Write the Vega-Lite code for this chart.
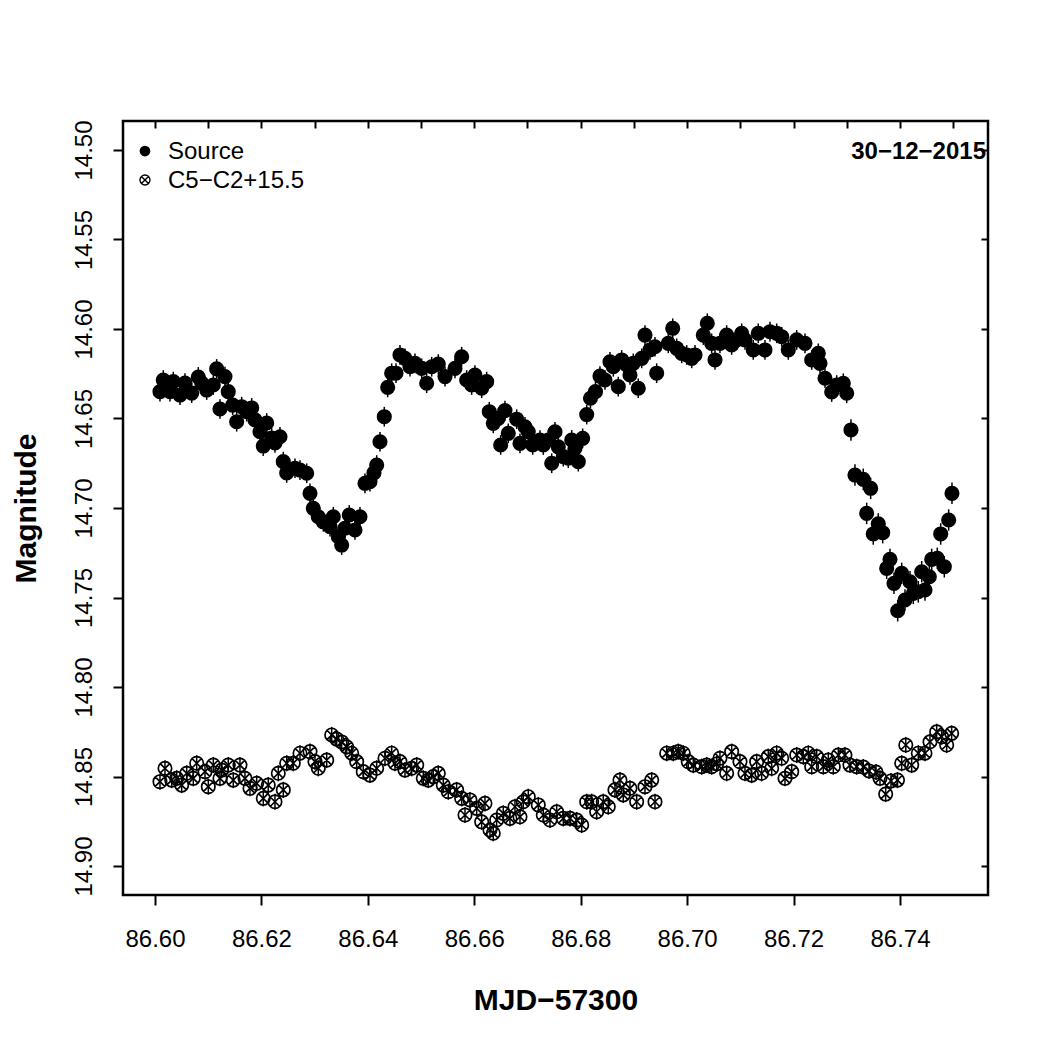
{
  "$schema": "https://vega.github.io/schema/vega-lite/v6.json",
  "autosize": {"type": "none"},
  "width": 865,
  "height": 774,
  "padding": {"left": 123, "top": 121, "right": 60, "bottom": 153},
  "background": "white",
  "config": {
    "font": "Liberation Sans",
    "view": {"stroke": "black", "strokeWidth": 2.5},
    "axis": {"grid": false, "domain": false, "tickColor": "black", "tickWidth": 2, "labelColor": "black", "titleColor": "black", "labelFont": "Liberation Sans", "titleFont": "Liberation Sans"}
  },
  "datasets": {
    "lc": [
      {"series": "Source", "mjd": 86.60094, "mag": 14.6350, "err": 0.0055},
      {"series": "Source", "mjd": 86.60156, "mag": 14.6285, "err": 0.0055},
      {"series": "Source", "mjd": 86.60282, "mag": 14.6350, "err": 0.0055},
      {"series": "Source", "mjd": 86.60344, "mag": 14.6294, "err": 0.0055},
      {"series": "Source", "mjd": 86.60470, "mag": 14.6369, "err": 0.0055},
      {"series": "Source", "mjd": 86.60564, "mag": 14.6302, "err": 0.0055},
      {"series": "Source", "mjd": 86.60690, "mag": 14.6358, "err": 0.0055},
      {"series": "Source", "mjd": 86.60814, "mag": 14.6268, "err": 0.0055},
      {"series": "Source", "mjd": 86.60878, "mag": 14.6302, "err": 0.0055},
      {"series": "Source", "mjd": 86.60972, "mag": 14.6341, "err": 0.0055},
      {"series": "Source", "mjd": 86.61096, "mag": 14.6313, "err": 0.0055},
      {"series": "Source", "mjd": 86.61159, "mag": 14.6223, "err": 0.0055},
      {"series": "Source", "mjd": 86.61221, "mag": 14.6447, "err": 0.0055},
      {"series": "Source", "mjd": 86.61315, "mag": 14.6266, "err": 0.0055},
      {"series": "Source", "mjd": 86.61377, "mag": 14.6350, "err": 0.0055},
      {"series": "Source", "mjd": 86.61460, "mag": 14.6425, "err": 0.0055},
      {"series": "Source", "mjd": 86.61535, "mag": 14.6518, "err": 0.0055},
      {"series": "Source", "mjd": 86.61629, "mag": 14.6434, "err": 0.0055},
      {"series": "Source", "mjd": 86.61723, "mag": 14.6462, "err": 0.0055},
      {"series": "Source", "mjd": 86.61817, "mag": 14.6441, "err": 0.0055},
      {"series": "Source", "mjd": 86.61879, "mag": 14.6508, "err": 0.0055},
      {"series": "Source", "mjd": 86.61973, "mag": 14.6574, "err": 0.0055},
      {"series": "Source", "mjd": 86.62035, "mag": 14.6654, "err": 0.0055},
      {"series": "Source", "mjd": 86.62099, "mag": 14.6525, "err": 0.0055},
      {"series": "Source", "mjd": 86.62193, "mag": 14.6609, "err": 0.0055},
      {"series": "Source", "mjd": 86.62255, "mag": 14.6637, "err": 0.0055},
      {"series": "Source", "mjd": 86.62349, "mag": 14.6602, "err": 0.0055},
      {"series": "Source", "mjd": 86.62411, "mag": 14.6741, "err": 0.0055},
      {"series": "Source", "mjd": 86.62475, "mag": 14.6804, "err": 0.0055},
      {"series": "Source", "mjd": 86.62631, "mag": 14.6778, "err": 0.0055},
      {"series": "Source", "mjd": 86.62725, "mag": 14.6788, "err": 0.0055},
      {"series": "Source", "mjd": 86.62851, "mag": 14.6806, "err": 0.0055},
      {"series": "Source", "mjd": 86.62913, "mag": 14.6918, "err": 0.0055},
      {"series": "Source", "mjd": 86.62975, "mag": 14.7002, "err": 0.0055},
      {"series": "Source", "mjd": 86.63069, "mag": 14.7049, "err": 0.0055},
      {"series": "Source", "mjd": 86.63163, "mag": 14.7077, "err": 0.0055},
      {"series": "Source", "mjd": 86.63289, "mag": 14.7104, "err": 0.0055},
      {"series": "Source", "mjd": 86.63351, "mag": 14.7049, "err": 0.0055},
      {"series": "Source", "mjd": 86.63445, "mag": 14.7160, "err": 0.0055},
      {"series": "Source", "mjd": 86.63508, "mag": 14.7207, "err": 0.0055},
      {"series": "Source", "mjd": 86.63570, "mag": 14.7113, "err": 0.0055},
      {"series": "Source", "mjd": 86.63651, "mag": 14.7039, "err": 0.0055},
      {"series": "Source", "mjd": 86.63758, "mag": 14.7123, "err": 0.0055},
      {"series": "Source", "mjd": 86.63852, "mag": 14.7049, "err": 0.0055},
      {"series": "Source", "mjd": 86.63946, "mag": 14.6862, "err": 0.0055},
      {"series": "Source", "mjd": 86.64040, "mag": 14.6853, "err": 0.0055},
      {"series": "Source", "mjd": 86.64115, "mag": 14.6804, "err": 0.0055},
      {"series": "Source", "mjd": 86.64166, "mag": 14.6760, "err": 0.0055},
      {"series": "Source", "mjd": 86.64228, "mag": 14.6630, "err": 0.0055},
      {"series": "Source", "mjd": 86.64309, "mag": 14.6490, "err": 0.0055},
      {"series": "Source", "mjd": 86.64373, "mag": 14.6326, "err": 0.0055},
      {"series": "Source", "mjd": 86.64448, "mag": 14.6247, "err": 0.0055},
      {"series": "Source", "mjd": 86.64529, "mag": 14.6247, "err": 0.0055},
      {"series": "Source", "mjd": 86.64604, "mag": 14.6145, "err": 0.0055},
      {"series": "Source", "mjd": 86.64698, "mag": 14.6164, "err": 0.0055},
      {"series": "Source", "mjd": 86.64792, "mag": 14.6211, "err": 0.0055},
      {"series": "Source", "mjd": 86.64886, "mag": 14.6192, "err": 0.0055},
      {"series": "Source", "mjd": 86.65012, "mag": 14.6220, "err": 0.0055},
      {"series": "Source", "mjd": 86.65106, "mag": 14.6303, "err": 0.0055},
      {"series": "Source", "mjd": 86.65200, "mag": 14.6211, "err": 0.0055},
      {"series": "Source", "mjd": 86.65324, "mag": 14.6196, "err": 0.0055},
      {"series": "Source", "mjd": 86.65450, "mag": 14.6266, "err": 0.0055},
      {"series": "Source", "mjd": 86.65638, "mag": 14.6220, "err": 0.0055},
      {"series": "Source", "mjd": 86.65763, "mag": 14.6155, "err": 0.0055},
      {"series": "Source", "mjd": 86.65857, "mag": 14.6285, "err": 0.0055},
      {"series": "Source", "mjd": 86.65951, "mag": 14.6313, "err": 0.0055},
      {"series": "Source", "mjd": 86.66013, "mag": 14.6257, "err": 0.0055},
      {"series": "Source", "mjd": 86.66139, "mag": 14.6331, "err": 0.0055},
      {"series": "Source", "mjd": 86.66233, "mag": 14.6294, "err": 0.0055},
      {"series": "Source", "mjd": 86.66282, "mag": 14.6462, "err": 0.0055},
      {"series": "Source", "mjd": 86.66357, "mag": 14.6527, "err": 0.0055},
      {"series": "Source", "mjd": 86.66451, "mag": 14.6499, "err": 0.0055},
      {"series": "Source", "mjd": 86.66496, "mag": 14.6648, "err": 0.0055},
      {"series": "Source", "mjd": 86.66577, "mag": 14.6456, "err": 0.0055},
      {"series": "Source", "mjd": 86.66639, "mag": 14.6583, "err": 0.0055},
      {"series": "Source", "mjd": 86.66797, "mag": 14.6504, "err": 0.0055},
      {"series": "Source", "mjd": 86.66859, "mag": 14.6639, "err": 0.0055},
      {"series": "Source", "mjd": 86.66953, "mag": 14.6546, "err": 0.0055},
      {"series": "Source", "mjd": 86.67015, "mag": 14.6574, "err": 0.0055},
      {"series": "Source", "mjd": 86.67098, "mag": 14.6648, "err": 0.0055},
      {"series": "Source", "mjd": 86.67235, "mag": 14.6620, "err": 0.0055},
      {"series": "Source", "mjd": 86.67297, "mag": 14.6648, "err": 0.0055},
      {"series": "Source", "mjd": 86.67391, "mag": 14.6620, "err": 0.0055},
      {"series": "Source", "mjd": 86.67455, "mag": 14.6750, "err": 0.0055},
      {"series": "Source", "mjd": 86.67517, "mag": 14.6574, "err": 0.0055},
      {"series": "Source", "mjd": 86.67579, "mag": 14.6658, "err": 0.0055},
      {"series": "Source", "mjd": 86.67673, "mag": 14.6713, "err": 0.0055},
      {"series": "Source", "mjd": 86.67767, "mag": 14.6722, "err": 0.0055},
      {"series": "Source", "mjd": 86.67831, "mag": 14.6620, "err": 0.0055},
      {"series": "Source", "mjd": 86.67893, "mag": 14.6666, "err": 0.0055},
      {"series": "Source", "mjd": 86.67955, "mag": 14.6741, "err": 0.0055},
      {"series": "Source", "mjd": 86.68037, "mag": 14.6611, "err": 0.0055},
      {"series": "Source", "mjd": 86.68113, "mag": 14.6478, "err": 0.0055},
      {"series": "Source", "mjd": 86.68184, "mag": 14.6387, "err": 0.0055},
      {"series": "Source", "mjd": 86.68278, "mag": 14.6350, "err": 0.0055},
      {"series": "Source", "mjd": 86.68362, "mag": 14.6263, "err": 0.0055},
      {"series": "Source", "mjd": 86.68456, "mag": 14.6285, "err": 0.0055},
      {"series": "Source", "mjd": 86.68550, "mag": 14.6183, "err": 0.0055},
      {"series": "Source", "mjd": 86.68613, "mag": 14.6211, "err": 0.0055},
      {"series": "Source", "mjd": 86.68706, "mag": 14.6322, "err": 0.0055},
      {"series": "Source", "mjd": 86.68770, "mag": 14.6173, "err": 0.0055},
      {"series": "Source", "mjd": 86.68864, "mag": 14.6201, "err": 0.0055},
      {"series": "Source", "mjd": 86.68926, "mag": 14.6257, "err": 0.0055},
      {"series": "Source", "mjd": 86.68988, "mag": 14.6192, "err": 0.0055},
      {"series": "Source", "mjd": 86.69082, "mag": 14.6331, "err": 0.0055},
      {"series": "Source", "mjd": 86.69146, "mag": 14.6164, "err": 0.0055},
      {"series": "Source", "mjd": 86.69208, "mag": 14.6034, "err": 0.0055},
      {"series": "Source", "mjd": 86.69302, "mag": 14.6117, "err": 0.0055},
      {"series": "Source", "mjd": 86.69396, "mag": 14.6099, "err": 0.0055},
      {"series": "Source", "mjd": 86.69428, "mag": 14.6247, "err": 0.0055},
      {"series": "Source", "mjd": 86.69646, "mag": 14.6080, "err": 0.0055},
      {"series": "Source", "mjd": 86.69729, "mag": 14.5996, "err": 0.0055},
      {"series": "Source", "mjd": 86.69804, "mag": 14.6108, "err": 0.0055},
      {"series": "Source", "mjd": 86.69898, "mag": 14.6136, "err": 0.0055},
      {"series": "Source", "mjd": 86.69992, "mag": 14.6145, "err": 0.0055},
      {"series": "Source", "mjd": 86.70086, "mag": 14.6164, "err": 0.0055},
      {"series": "Source", "mjd": 86.70148, "mag": 14.6145, "err": 0.0055},
      {"series": "Source", "mjd": 86.70304, "mag": 14.6034, "err": 0.0055},
      {"series": "Source", "mjd": 86.70379, "mag": 14.5968, "err": 0.0055},
      {"series": "Source", "mjd": 86.70461, "mag": 14.6080, "err": 0.0055},
      {"series": "Source", "mjd": 86.70524, "mag": 14.6173, "err": 0.0055},
      {"series": "Source", "mjd": 86.70617, "mag": 14.6080, "err": 0.0055},
      {"series": "Source", "mjd": 86.70743, "mag": 14.6034, "err": 0.0055},
      {"series": "Source", "mjd": 86.70837, "mag": 14.6089, "err": 0.0055},
      {"series": "Source", "mjd": 86.70931, "mag": 14.6061, "err": 0.0055},
      {"series": "Source", "mjd": 86.71025, "mag": 14.6024, "err": 0.0055},
      {"series": "Source", "mjd": 86.71087, "mag": 14.6061, "err": 0.0055},
      {"series": "Source", "mjd": 86.71243, "mag": 14.6117, "err": 0.0055},
      {"series": "Source", "mjd": 86.71337, "mag": 14.6024, "err": 0.0055},
      {"series": "Source", "mjd": 86.71463, "mag": 14.6117, "err": 0.0055},
      {"series": "Source", "mjd": 86.71557, "mag": 14.6015, "err": 0.0055},
      {"series": "Source", "mjd": 86.71683, "mag": 14.6024, "err": 0.0055},
      {"series": "Source", "mjd": 86.71777, "mag": 14.6043, "err": 0.0055},
      {"series": "Source", "mjd": 86.71901, "mag": 14.6117, "err": 0.0055},
      {"series": "Source", "mjd": 86.72059, "mag": 14.6061, "err": 0.0055},
      {"series": "Source", "mjd": 86.72215, "mag": 14.6080, "err": 0.0055},
      {"series": "Source", "mjd": 86.72341, "mag": 14.6173, "err": 0.0055},
      {"series": "Source", "mjd": 86.72465, "mag": 14.6136, "err": 0.0055},
      {"series": "Source", "mjd": 86.72497, "mag": 14.6192, "err": 0.0055},
      {"series": "Source", "mjd": 86.72591, "mag": 14.6275, "err": 0.0055},
      {"series": "Source", "mjd": 86.72717, "mag": 14.6352, "err": 0.0055},
      {"series": "Source", "mjd": 86.72811, "mag": 14.6313, "err": 0.0055},
      {"series": "Source", "mjd": 86.72935, "mag": 14.6303, "err": 0.0055},
      {"series": "Source", "mjd": 86.72999, "mag": 14.6359, "err": 0.0055},
      {"series": "Source", "mjd": 86.73079, "mag": 14.6564, "err": 0.006},
      {"series": "Source", "mjd": 86.73154, "mag": 14.6816, "err": 0.006},
      {"series": "Source", "mjd": 86.73310, "mag": 14.6840, "err": 0.006},
      {"series": "Source", "mjd": 86.73374, "mag": 14.7030, "err": 0.006},
      {"series": "Source", "mjd": 86.73449, "mag": 14.6890, "err": 0.006},
      {"series": "Source", "mjd": 86.73498, "mag": 14.7145, "err": 0.006},
      {"series": "Source", "mjd": 86.73592, "mag": 14.7089, "err": 0.006},
      {"series": "Source", "mjd": 86.73675, "mag": 14.7138, "err": 0.006},
      {"series": "Source", "mjd": 86.73750, "mag": 14.7337, "err": 0.006},
      {"series": "Source", "mjd": 86.73812, "mag": 14.7287, "err": 0.006},
      {"series": "Source", "mjd": 86.73887, "mag": 14.7421, "err": 0.006},
      {"series": "Source", "mjd": 86.73957, "mag": 14.7574, "err": 0.006},
      {"series": "Source", "mjd": 86.74032, "mag": 14.7365, "err": 0.006},
      {"series": "Source", "mjd": 86.74094, "mag": 14.7514, "err": 0.006},
      {"series": "Source", "mjd": 86.74188, "mag": 14.7412, "err": 0.006},
      {"series": "Source", "mjd": 86.74250, "mag": 14.7477, "err": 0.006},
      {"series": "Source", "mjd": 86.74344, "mag": 14.7468, "err": 0.006},
      {"series": "Source", "mjd": 86.74408, "mag": 14.7356, "err": 0.006},
      {"series": "Source", "mjd": 86.74470, "mag": 14.7458, "err": 0.006},
      {"series": "Source", "mjd": 86.74551, "mag": 14.7384, "err": 0.006},
      {"series": "Source", "mjd": 86.74596, "mag": 14.7287, "err": 0.006},
      {"series": "Source", "mjd": 86.74701, "mag": 14.7281, "err": 0.006},
      {"series": "Source", "mjd": 86.74765, "mag": 14.7145, "err": 0.006},
      {"series": "Source", "mjd": 86.74833, "mag": 14.7328, "err": 0.006},
      {"series": "Source", "mjd": 86.74915, "mag": 14.7067, "err": 0.006},
      {"series": "Source", "mjd": 86.74977, "mag": 14.6918, "err": 0.006},
      {"series": "C5−C2+15.5", "mjd": 86.60094, "mag": 14.8529, "err": 0.0045},
      {"series": "C5−C2+15.5", "mjd": 86.60188, "mag": 14.8454, "err": 0.0045},
      {"series": "C5−C2+15.5", "mjd": 86.60314, "mag": 14.8520, "err": 0.0045},
      {"series": "C5−C2+15.5", "mjd": 86.60408, "mag": 14.8510, "err": 0.0045},
      {"series": "C5−C2+15.5", "mjd": 86.60502, "mag": 14.8548, "err": 0.0045},
      {"series": "C5−C2+15.5", "mjd": 86.60596, "mag": 14.8482, "err": 0.0045},
      {"series": "C5−C2+15.5", "mjd": 86.60720, "mag": 14.8510, "err": 0.0045},
      {"series": "C5−C2+15.5", "mjd": 86.60784, "mag": 14.8426, "err": 0.0045},
      {"series": "C5−C2+15.5", "mjd": 86.60940, "mag": 14.8473, "err": 0.0045},
      {"series": "C5−C2+15.5", "mjd": 86.61002, "mag": 14.8557, "err": 0.0045},
      {"series": "C5−C2+15.5", "mjd": 86.61096, "mag": 14.8436, "err": 0.0045},
      {"series": "C5−C2+15.5", "mjd": 86.61221, "mag": 14.8510, "err": 0.0045},
      {"series": "C5−C2+15.5", "mjd": 86.61253, "mag": 14.8464, "err": 0.0045},
      {"series": "C5−C2+15.5", "mjd": 86.61377, "mag": 14.8436, "err": 0.0045},
      {"series": "C5−C2+15.5", "mjd": 86.61471, "mag": 14.8520, "err": 0.0045},
      {"series": "C5−C2+15.5", "mjd": 86.61597, "mag": 14.8436, "err": 0.0045},
      {"series": "C5−C2+15.5", "mjd": 86.61691, "mag": 14.8510, "err": 0.0045},
      {"series": "C5−C2+15.5", "mjd": 86.61785, "mag": 14.8566, "err": 0.0045},
      {"series": "C5−C2+15.5", "mjd": 86.61911, "mag": 14.8538, "err": 0.0045},
      {"series": "C5−C2+15.5", "mjd": 86.62035, "mag": 14.8622, "err": 0.0045},
      {"series": "C5−C2+15.5", "mjd": 86.62129, "mag": 14.8548, "err": 0.0045},
      {"series": "C5−C2+15.5", "mjd": 86.62255, "mag": 14.8641, "err": 0.0045},
      {"series": "C5−C2+15.5", "mjd": 86.62317, "mag": 14.8482, "err": 0.0045},
      {"series": "C5−C2+15.5", "mjd": 86.62411, "mag": 14.8575, "err": 0.0045},
      {"series": "C5−C2+15.5", "mjd": 86.62475, "mag": 14.8426, "err": 0.0045},
      {"series": "C5−C2+15.5", "mjd": 86.62599, "mag": 14.8426, "err": 0.0045},
      {"series": "C5−C2+15.5", "mjd": 86.62725, "mag": 14.8370, "err": 0.0045},
      {"series": "C5−C2+15.5", "mjd": 86.62913, "mag": 14.8361, "err": 0.0045},
      {"series": "C5−C2+15.5", "mjd": 86.63007, "mag": 14.8417, "err": 0.0045},
      {"series": "C5−C2+15.5", "mjd": 86.63069, "mag": 14.8454, "err": 0.0045},
      {"series": "C5−C2+15.5", "mjd": 86.63227, "mag": 14.8408, "err": 0.0045},
      {"series": "C5−C2+15.5", "mjd": 86.63321, "mag": 14.8268, "err": 0.0045},
      {"series": "C5−C2+15.5", "mjd": 86.63415, "mag": 14.8291, "err": 0.0045},
      {"series": "C5−C2+15.5", "mjd": 86.63508, "mag": 14.8307, "err": 0.0045},
      {"series": "C5−C2+15.5", "mjd": 86.63602, "mag": 14.8334, "err": 0.0045},
      {"series": "C5−C2+15.5", "mjd": 86.63696, "mag": 14.8370, "err": 0.0045},
      {"series": "C5−C2+15.5", "mjd": 86.63790, "mag": 14.8417, "err": 0.0045},
      {"series": "C5−C2+15.5", "mjd": 86.63914, "mag": 14.8473, "err": 0.0045},
      {"series": "C5−C2+15.5", "mjd": 86.64040, "mag": 14.8492, "err": 0.0045},
      {"series": "C5−C2+15.5", "mjd": 86.64166, "mag": 14.8454, "err": 0.0045},
      {"series": "C5−C2+15.5", "mjd": 86.64322, "mag": 14.8398, "err": 0.0045},
      {"series": "C5−C2+15.5", "mjd": 86.64448, "mag": 14.8370, "err": 0.0045},
      {"series": "C5−C2+15.5", "mjd": 86.64510, "mag": 14.8426, "err": 0.0045},
      {"series": "C5−C2+15.5", "mjd": 86.64604, "mag": 14.8417, "err": 0.0045},
      {"series": "C5−C2+15.5", "mjd": 86.64698, "mag": 14.8464, "err": 0.0045},
      {"series": "C5−C2+15.5", "mjd": 86.64824, "mag": 14.8454, "err": 0.0045},
      {"series": "C5−C2+15.5", "mjd": 86.64918, "mag": 14.8436, "err": 0.0045},
      {"series": "C5−C2+15.5", "mjd": 86.65042, "mag": 14.8510, "err": 0.0045},
      {"series": "C5−C2+15.5", "mjd": 86.65136, "mag": 14.8520, "err": 0.0045},
      {"series": "C5−C2+15.5", "mjd": 86.65230, "mag": 14.8501, "err": 0.0045},
      {"series": "C5−C2+15.5", "mjd": 86.65324, "mag": 14.8482, "err": 0.0045},
      {"series": "C5−C2+15.5", "mjd": 86.65418, "mag": 14.8548, "err": 0.0045},
      {"series": "C5−C2+15.5", "mjd": 86.65512, "mag": 14.8585, "err": 0.0045},
      {"series": "C5−C2+15.5", "mjd": 86.65669, "mag": 14.8575, "err": 0.0045},
      {"series": "C5−C2+15.5", "mjd": 86.65763, "mag": 14.8622, "err": 0.0045},
      {"series": "C5−C2+15.5", "mjd": 86.65826, "mag": 14.8715, "err": 0.0045},
      {"series": "C5−C2+15.5", "mjd": 86.65919, "mag": 14.8631, "err": 0.0045},
      {"series": "C5−C2+15.5", "mjd": 86.66045, "mag": 14.8678, "err": 0.0045},
      {"series": "C5−C2+15.5", "mjd": 86.66139, "mag": 14.8753, "err": 0.0045},
      {"series": "C5−C2+15.5", "mjd": 86.66201, "mag": 14.8650, "err": 0.0045},
      {"series": "C5−C2+15.5", "mjd": 86.66295, "mag": 14.8799, "err": 0.0045},
      {"series": "C5−C2+15.5", "mjd": 86.66357, "mag": 14.8817, "err": 0.0045},
      {"series": "C5−C2+15.5", "mjd": 86.66421, "mag": 14.8743, "err": 0.0045},
      {"series": "C5−C2+15.5", "mjd": 86.66545, "mag": 14.8706, "err": 0.0045},
      {"series": "C5−C2+15.5", "mjd": 86.66671, "mag": 14.8734, "err": 0.0045},
      {"series": "C5−C2+15.5", "mjd": 86.66765, "mag": 14.8669, "err": 0.0045},
      {"series": "C5−C2+15.5", "mjd": 86.66859, "mag": 14.8725, "err": 0.0045},
      {"series": "C5−C2+15.5", "mjd": 86.66921, "mag": 14.8641, "err": 0.0045},
      {"series": "C5−C2+15.5", "mjd": 86.67015, "mag": 14.8613, "err": 0.0045},
      {"series": "C5−C2+15.5", "mjd": 86.67203, "mag": 14.8659, "err": 0.0045},
      {"series": "C5−C2+15.5", "mjd": 86.67297, "mag": 14.8715, "err": 0.0045},
      {"series": "C5−C2+15.5", "mjd": 86.67423, "mag": 14.8743, "err": 0.0045},
      {"series": "C5−C2+15.5", "mjd": 86.67549, "mag": 14.8697, "err": 0.0045},
      {"series": "C5−C2+15.5", "mjd": 86.67673, "mag": 14.8734, "err": 0.0045},
      {"series": "C5−C2+15.5", "mjd": 86.67799, "mag": 14.8734, "err": 0.0045},
      {"series": "C5−C2+15.5", "mjd": 86.67925, "mag": 14.8743, "err": 0.0045},
      {"series": "C5−C2+15.5", "mjd": 86.68019, "mag": 14.8771, "err": 0.0045},
      {"series": "C5−C2+15.5", "mjd": 86.68113, "mag": 14.8641, "err": 0.0045},
      {"series": "C5−C2+15.5", "mjd": 86.68206, "mag": 14.8641, "err": 0.0045},
      {"series": "C5−C2+15.5", "mjd": 86.68300, "mag": 14.8697, "err": 0.0045},
      {"series": "C5−C2+15.5", "mjd": 86.68424, "mag": 14.8641, "err": 0.0045},
      {"series": "C5−C2+15.5", "mjd": 86.68518, "mag": 14.8669, "err": 0.0045},
      {"series": "C5−C2+15.5", "mjd": 86.68644, "mag": 14.8575, "err": 0.0045},
      {"series": "C5−C2+15.5", "mjd": 86.68738, "mag": 14.8520, "err": 0.0045},
      {"series": "C5−C2+15.5", "mjd": 86.68800, "mag": 14.8603, "err": 0.0045},
      {"series": "C5−C2+15.5", "mjd": 86.68926, "mag": 14.8566, "err": 0.0045},
      {"series": "C5−C2+15.5", "mjd": 86.69052, "mag": 14.8641, "err": 0.0045},
      {"series": "C5−C2+15.5", "mjd": 86.69208, "mag": 14.8557, "err": 0.0045},
      {"series": "C5−C2+15.5", "mjd": 86.69334, "mag": 14.8520, "err": 0.0045},
      {"series": "C5−C2+15.5", "mjd": 86.69396, "mag": 14.8641, "err": 0.0045},
      {"series": "C5−C2+15.5", "mjd": 86.69616, "mag": 14.8370, "err": 0.0045},
      {"series": "C5−C2+15.5", "mjd": 86.69740, "mag": 14.8370, "err": 0.0045},
      {"series": "C5−C2+15.5", "mjd": 86.69834, "mag": 14.8361, "err": 0.0045},
      {"series": "C5−C2+15.5", "mjd": 86.69928, "mag": 14.8370, "err": 0.0045},
      {"series": "C5−C2+15.5", "mjd": 86.70022, "mag": 14.8417, "err": 0.0045},
      {"series": "C5−C2+15.5", "mjd": 86.70116, "mag": 14.8436, "err": 0.0045},
      {"series": "C5−C2+15.5", "mjd": 86.70274, "mag": 14.8445, "err": 0.0045},
      {"series": "C5−C2+15.5", "mjd": 86.70368, "mag": 14.8436, "err": 0.0045},
      {"series": "C5−C2+15.5", "mjd": 86.70461, "mag": 14.8445, "err": 0.0045},
      {"series": "C5−C2+15.5", "mjd": 86.70555, "mag": 14.8430, "err": 0.0045},
      {"series": "C5−C2+15.5", "mjd": 86.70617, "mag": 14.8398, "err": 0.0045},
      {"series": "C5−C2+15.5", "mjd": 86.70743, "mag": 14.8482, "err": 0.0045},
      {"series": "C5−C2+15.5", "mjd": 86.70837, "mag": 14.8361, "err": 0.0045},
      {"series": "C5−C2+15.5", "mjd": 86.70993, "mag": 14.8417, "err": 0.0045},
      {"series": "C5−C2+15.5", "mjd": 86.71087, "mag": 14.8482, "err": 0.0045},
      {"series": "C5−C2+15.5", "mjd": 86.71213, "mag": 14.8492, "err": 0.0045},
      {"series": "C5−C2+15.5", "mjd": 86.71307, "mag": 14.8417, "err": 0.0045},
      {"series": "C5−C2+15.5", "mjd": 86.71401, "mag": 14.8482, "err": 0.0045},
      {"series": "C5−C2+15.5", "mjd": 86.71525, "mag": 14.8389, "err": 0.0045},
      {"series": "C5−C2+15.5", "mjd": 86.71589, "mag": 14.8454, "err": 0.0045},
      {"series": "C5−C2+15.5", "mjd": 86.71683, "mag": 14.8370, "err": 0.0045},
      {"series": "C5−C2+15.5", "mjd": 86.71777, "mag": 14.8398, "err": 0.0045},
      {"series": "C5−C2+15.5", "mjd": 86.71839, "mag": 14.8510, "err": 0.0045},
      {"series": "C5−C2+15.5", "mjd": 86.71965, "mag": 14.8473, "err": 0.0045},
      {"series": "C5−C2+15.5", "mjd": 86.72059, "mag": 14.8380, "err": 0.0045},
      {"series": "C5−C2+15.5", "mjd": 86.72183, "mag": 14.8389, "err": 0.0045},
      {"series": "C5−C2+15.5", "mjd": 86.72277, "mag": 14.8370, "err": 0.0045},
      {"series": "C5−C2+15.5", "mjd": 86.72341, "mag": 14.8445, "err": 0.0045},
      {"series": "C5−C2+15.5", "mjd": 86.72435, "mag": 14.8389, "err": 0.0045},
      {"series": "C5−C2+15.5", "mjd": 86.72559, "mag": 14.8445, "err": 0.0045},
      {"series": "C5−C2+15.5", "mjd": 86.72653, "mag": 14.8408, "err": 0.0045},
      {"series": "C5−C2+15.5", "mjd": 86.72747, "mag": 14.8445, "err": 0.0045},
      {"series": "C5−C2+15.5", "mjd": 86.72841, "mag": 14.8380, "err": 0.0045},
      {"series": "C5−C2+15.5", "mjd": 86.72966, "mag": 14.8380, "err": 0.0045},
      {"series": "C5−C2+15.5", "mjd": 86.73060, "mag": 14.8436, "err": 0.0045},
      {"series": "C5−C2+15.5", "mjd": 86.73186, "mag": 14.8445, "err": 0.0045},
      {"series": "C5−C2+15.5", "mjd": 86.73310, "mag": 14.8447, "err": 0.0045},
      {"series": "C5−C2+15.5", "mjd": 86.73418, "mag": 14.8469, "err": 0.0045},
      {"series": "C5−C2+15.5", "mjd": 86.73549, "mag": 14.8475, "err": 0.0045},
      {"series": "C5−C2+15.5", "mjd": 86.73624, "mag": 14.8510, "err": 0.0045},
      {"series": "C5−C2+15.5", "mjd": 86.73731, "mag": 14.8598, "err": 0.0045},
      {"series": "C5−C2+15.5", "mjd": 86.73831, "mag": 14.8525, "err": 0.0045},
      {"series": "C5−C2+15.5", "mjd": 86.73953, "mag": 14.8520, "err": 0.0045},
      {"series": "C5−C2+15.5", "mjd": 86.74032, "mag": 14.8426, "err": 0.0045},
      {"series": "C5−C2+15.5", "mjd": 86.74109, "mag": 14.8324, "err": 0.0045},
      {"series": "C5−C2+15.5", "mjd": 86.74220, "mag": 14.8436, "err": 0.0045},
      {"series": "C5−C2+15.5", "mjd": 86.74344, "mag": 14.8370, "err": 0.0045},
      {"series": "C5−C2+15.5", "mjd": 86.74470, "mag": 14.8370, "err": 0.0045},
      {"series": "C5−C2+15.5", "mjd": 86.74564, "mag": 14.8306, "err": 0.0045},
      {"series": "C5−C2+15.5", "mjd": 86.74690, "mag": 14.8250, "err": 0.0045},
      {"series": "C5−C2+15.5", "mjd": 86.74783, "mag": 14.8278, "err": 0.0045},
      {"series": "C5−C2+15.5", "mjd": 86.74877, "mag": 14.8324, "err": 0.0045},
      {"series": "C5−C2+15.5", "mjd": 86.74971, "mag": 14.8259, "err": 0.0045}
    ]
  },
  "data": {"name": "lc"},
  "resolve": {"axis": {"x": "independent", "y": "independent"}},
  "layer": [
    {
      "mark": {"type": "errorbar", "color": "black", "thickness": 1.5},
      "encoding": {
        "x": {
          "field": "mjd", "type": "quantitative",
          "scale": {"domain": [86.59399, 86.75654], "nice": false, "zero": false},
          "axis": {
            "orient": "bottom",
            "values": [86.60, 86.62, 86.64, 86.66, 86.68, 86.70, 86.72, 86.74],
            "format": ".2f", "labelFontSize": 24, "tickSize": 10, "labelPadding": 22,
            "labelOverlap": false, "labelFlush": false,
            "title": "MJD−57300", "titleFontSize": 30, "titleFontWeight": "bold", "titlePadding": 34
          }
        },
        "y": {
          "field": "mag", "type": "quantitative",
          "scale": {"domain": [14.4838, 14.9162], "nice": false, "zero": false, "reverse": true},
          "axis": {
            "orient": "left",
            "values": [14.5, 14.55, 14.6, 14.65, 14.7, 14.75, 14.8, 14.85, 14.9],
            "format": ".2f", "labelFontSize": 24, "tickSize": 10, "labelPadding": 17,
            "labelAngle": 270, "labelAlign": "center", "labelBaseline": "bottom",
            "labelOverlap": false, "labelFlush": false,
            "title": "Magnitude", "titleFontSize": 30, "titleFontWeight": "bold", "titlePadding": 31
          }
        },
        "yError": {"field": "err"}
      }
    },
    {
      "mark": {"type": "point", "stroke": "black", "strokeWidth": 1.7, "opacity": 1, "size": 180},
      "encoding": {
        "x": {
          "field": "mjd", "type": "quantitative",
          "scale": {"domain": [86.59399, 86.75654], "nice": false, "zero": false},
          "axis": {
            "orient": "top",
            "values": [86.60, 86.61, 86.62, 86.63, 86.64, 86.65, 86.66, 86.67, 86.68, 86.69, 86.70, 86.71, 86.72, 86.73, 86.74, 86.75],
            "labels": false, "tickSize": -7, "title": null
          }
        },
        "y": {
          "field": "mag", "type": "quantitative",
          "scale": {"domain": [14.4838, 14.9162], "nice": false, "zero": false, "reverse": true},
          "axis": {
            "orient": "right",
            "values": [14.5, 14.55, 14.6, 14.65, 14.7, 14.75, 14.8, 14.85, 14.9],
            "labels": false, "tickSize": -7, "title": null
          }
        },
        "shape": {
          "field": "series", "type": "nominal",
          "scale": {
            "domain": ["Source", "C5−C2+15.5"],
            "range": ["circle", "M-1,0A1,1,0,1,1,1,0A1,1,0,1,1,-1,0ZM-0.7071,-0.7071L0.7071,0.7071M-0.7071,0.7071L0.7071,-0.7071"]
          },
          "legend": null
        },
        "fill": {
          "field": "series", "type": "nominal",
          "scale": {"domain": ["Source", "C5−C2+15.5"], "range": ["black", "transparent"]},
          "legend": null
        }
      }
    },
    {
      "data": {"values": [{"series": "Source"}]},
      "mark": {"type": "point", "shape": "circle", "filled": true, "color": "black", "opacity": 1, "size": 115},
      "encoding": {
        "x": {"datum": 86.59812, "type": "quantitative", "axis": null},
        "y": {"datum": 14.5006, "type": "quantitative", "axis": null}
      }
    },
    {
      "data": {"values": [{"series": "C5−C2+15.5"}]},
      "mark": {"type": "point", "shape": "M-1,0A1,1,0,1,1,1,0A1,1,0,1,1,-1,0ZM-0.7071,-0.7071L0.7071,0.7071M-0.7071,0.7071L0.7071,-0.7071", "filled": false, "stroke": "black", "strokeWidth": 1.4, "opacity": 1, "size": 100},
      "encoding": {
        "x": {"datum": 86.59812, "type": "quantitative", "axis": null},
        "y": {"datum": 14.5168, "type": "quantitative", "axis": null}
      }
    },
    {
      "data": {"values": [{"series": "Source", "row": 14.5006}, {"series": "C5−C2+15.5", "row": 14.5168}]},
      "mark": {"type": "text", "align": "left", "baseline": "middle", "fontSize": 24, "color": "black", "dy": 1},
      "encoding": {
        "x": {"datum": 86.60244, "type": "quantitative", "axis": null},
        "y": {"field": "row", "type": "quantitative", "axis": null},
        "text": {"field": "series"}
      }
    },
    {
      "data": {"values": [{"date": "30−12−2015", "mjd": 86.75654, "mag": 14.5}]},
      "mark": {"type": "text", "align": "right", "baseline": "middle", "fontSize": 24, "fontWeight": "bold", "color": "black", "dx": -2, "dy": 2},
      "encoding": {
        "x": {"field": "mjd", "type": "quantitative", "axis": null},
        "y": {"field": "mag", "type": "quantitative", "axis": null},
        "text": {"field": "date"}
      }
    }
  ]
}
